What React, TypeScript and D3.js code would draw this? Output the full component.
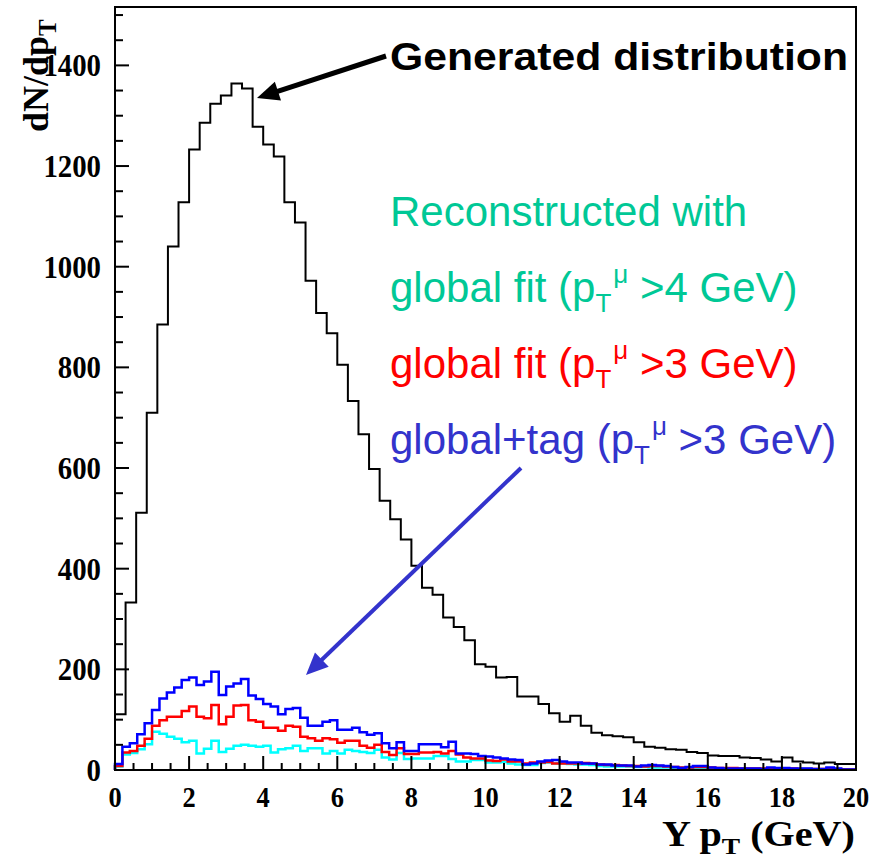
import React from "react";
import * as d3 from "d3";

// Generated distribution: 70 bins over 0..20 GeV
const generated = [111, 333, 511, 710, 885, 1040, 1128, 1233, 1286, 1324,
  1340, 1364, 1354, 1278, 1243, 1219, 1128, 1088, 972, 908,
  868, 805, 733, 667, 598, 535, 498, 458, 406, 362,
  348, 303, 284, 258, 210, 205, 184, 185, 146, 146,
  131, 113, 96, 108, 88, 74, 69, 67, 65, 55,
  46, 44, 41, 40, 36, 34, 29, 28, 28, 25,
  24, 21, 17, 25, 17, 15, 13, 15, 12, 12];

// Reconstructed: 100 bins over 0..20 GeV
const globalTag3 = [12, 46, 53, 71, 93, 119, 142, 154, 164, 179,
  184, 169, 176, 195, 149, 166, 172, 181, 148, 141,
  131, 126, 111, 121, 123, 104, 88, 88, 96, 99,
  80, 80, 84, 75, 70, 73, 53, 43, 55, 38,
  38, 51, 51, 51, 45, 56, 33, 33, 32, 28,
  27, 25, 23, 21, 20, 11, 13, 17, 19, 20,
  17, 15, 15, 13, 13, 11, 11, 9, 9, 9,
  7, 9, 10, 9, 8, 6, 4, 6, 8, 8,
  5, 4, 3, 3, 3, 3, 3, 2, 5, 4,
  4, 3, 3, 3, 2, 2, 5, 3, 1, 1];

const globalFit3 = [8, 35, 38, 48, 62, 88, 99, 106, 106, 117,
  126, 106, 103, 129, 91, 106, 128, 129, 99, 96,
  84, 84, 78, 88, 86, 66, 63, 58, 63, 61,
  54, 58, 58, 48, 44, 50, 36, 30, 43, 32,
  32, 35, 35, 36, 33, 38, 31, 25, 23, 23,
  19, 18, 21, 17, 17, 13, 15, 15, 16, 13,
  13, 13, 13, 14, 13, 11, 10, 10, 9, 8,
  8, 7, 8, 8, 7, 6, 5, 5, 6, 6,
  5, 4, 4, 4, 3, 3, 3, 3, 3, 3,
  3, 3, 2, 2, 2, 2, 2, 2, 1, 1];

const globalFit4 = [7, 31, 34, 41, 51, 76, 72, 66, 62, 55,
  58, 33, 42, 58, 36, 42, 48, 50, 48, 46,
  48, 35, 41, 43, 48, 38, 43, 43, 33, 38,
  33, 40, 38, 36, 34, 40, 25, 21, 34, 22,
  23, 23, 23, 28, 28, 22, 17, 17, 20, 20,
  15, 15, 16, 13, 11, 10, 10, 14, 15, 13,
  13, 12, 11, 11, 10, 8, 7, 7, 7, 7,
  6, 6, 5, 5, 5, 4, 4, 4, 4, 3,
  3, 3, 3, 2, 2, 2, 2, 2, 2, 2,
  2, 1, 2, 2, 1, 1, 1, 1, 1, 1];

const yTickLabels = [0, 200, 400, 600, 800, 1000, 1200, 1400];
const xTickLabels = [0, 2, 4, 6, 8, 10, 12, 14, 16, 18, 20];

const W = 875, H = 860;
const left = 115, right = 856, top = 7, bottom = 770;
const xMax = 20, yMax = 1516;

const x = d3.scaleLinear().domain([0, xMax]).range([left, right]);
const y = d3.scaleLinear().domain([0, yMax]).range([bottom, top]);

function histPath(vals: number[]) {
  const n = vals.length;
  const w = xMax / n;
  const pts: [number, number][] = [[0, 0]];
  vals.forEach((v, i) => pts.push([i * w, v]));
  pts.push([n * w, vals[n - 1]]);
  const line = d3.line<[number, number]>()
    .x(d => x(d[0]))
    .y(d => y(d[1]))
    .curve(d3.curveStepAfter);
  return line(pts) || "";
}

const serif = "'Liberation Serif', 'Times New Roman', serif";
const sans = "'Liberation Sans', Arial, sans-serif";

function Arrow({ x1, y1, x2, y2, color, width, head }: any) {
  const ang = Math.atan2(y2 - y1, x2 - x1);
  const hl = head, hw = head * 0.45;
  const bx = x2 - hl * Math.cos(ang), by = y2 - hl * Math.sin(ang);
  const px = -Math.sin(ang), py = Math.cos(ang);
  const p = `${x2},${y2} ${bx + px * hw},${by + py * hw} ${bx - px * hw},${by - py * hw}`;
  return (
    <g>
      <line x1={x1} y1={y1} x2={bx + hl * 0.2 * Math.cos(ang)} y2={by + hl * 0.2 * Math.sin(ang)} stroke={color} strokeWidth={width} />
      <polygon points={p} fill={color} />
    </g>
  );
}

function Legend({ xPos, yPos, color, text, cut }: any) {
  return (
    <text x={xPos} y={yPos} fill={color} fontFamily={sans} fontSize={42}>
      {text}
      {cut !== undefined && (
        <>
          <tspan>(p</tspan>
          <tspan fontSize={26} dy={10}>T</tspan>
          <tspan fontSize={26} dy={-29} dx={2}>μ</tspan>
          <tspan dy={19}>{` >${cut} GeV)`}</tspan>
        </>
      )}
    </text>
  );
}

export default function App() {
  const yTicks = d3.range(0, yMax, 50);
  const xTicks = d3.range(0, xMax + 0.001, 0.5);
  return (
    <svg width={W} height={H} style={{ position: "absolute", left: 0, top: 0, background: "#fff" }}>
      <rect x={0} y={0} width={W} height={H} fill="#fff" />
      {/* histograms */}
      <path d={histPath(generated)} fill="none" stroke="#000" strokeWidth={2} />
      <path d={histPath(globalFit4)} fill="none" stroke="#00ffff" strokeWidth={2.5} />
      <path d={histPath(globalFit3)} fill="none" stroke="#ff0000" strokeWidth={2.5} />
      <path d={histPath(globalTag3)} fill="none" stroke="#0000ff" strokeWidth={2.5} />
      {/* ticks */}
      {yTicks.map(t => (
        <line key={"yt" + t} x1={left} x2={left + (t % 200 === 0 ? 14 : 8)} y1={y(t)} y2={y(t)} stroke="#000" strokeWidth={2} />
      ))}
      {xTicks.map(t => (
        <line key={"xt" + t} x1={x(t)} x2={x(t)} y1={bottom} y2={bottom - (t % 2 === 0 ? 14 : 7)} stroke="#000" strokeWidth={2} />
      ))}
      {/* frame */}
      <rect x={left} y={top} width={right - left} height={bottom - top} fill="none" stroke="#000" strokeWidth={2} />
      {/* tick labels */}
      {yTickLabels.map(t => (
        <text key={"yl" + t} x={101 / 0.9} y={y(t) + 11} textAnchor="end" fontFamily={serif} fontWeight="bold" fontSize={32}
          transform="scale(0.9,1)">{t}</text>
      ))}
      {xTickLabels.map(t => (
        <text key={"xl" + t} x={x(t) / 0.88} y={807} textAnchor="middle" fontFamily={serif} fontWeight="bold" fontSize={30}
          transform="scale(0.88,1)">{t}</text>
      ))}
      {/* axis titles */}
      <text transform="translate(48,132) rotate(-90)" fontFamily={serif} fontWeight="bold" fontSize={36}>
        dN/dp<tspan fontSize={25} dy={8}>T</tspan>
      </text>
      <text x={855} y={846} textAnchor="end" fontFamily={serif} fontWeight="bold" fontSize={35}
        textLength={193} lengthAdjust="spacingAndGlyphs">
        Y p<tspan fontSize={24} dy={8}>T</tspan><tspan dy={-8}> (GeV)</tspan>
      </text>
      {/* annotations */}
      <text x={390} y={70} fontFamily={sans} fontWeight="bold" fontSize={39} fill="#000"
        textLength={458} lengthAdjust="spacingAndGlyphs">Generated distribution</text>
      <Arrow x1={386} y1={56} x2={257} y2={98} color="#000" width={5} head={22} />
      <Legend xPos={390} yPos={226} color="#00c896" text="Reconstructed with" />
      <Legend xPos={390} yPos={302} color="#00c896" text="global fit " cut={4} />
      <Legend xPos={390} yPos={378} color="#ff0000" text="global fit " cut={3} />
      <Legend xPos={390} yPos={454} color="#3333cc" text="global+tag " cut={3} />
      <Arrow x1={521} y1={468} x2={306} y2={675} color="#3333cc" width={4} head={22} />
    </svg>
  );
}
